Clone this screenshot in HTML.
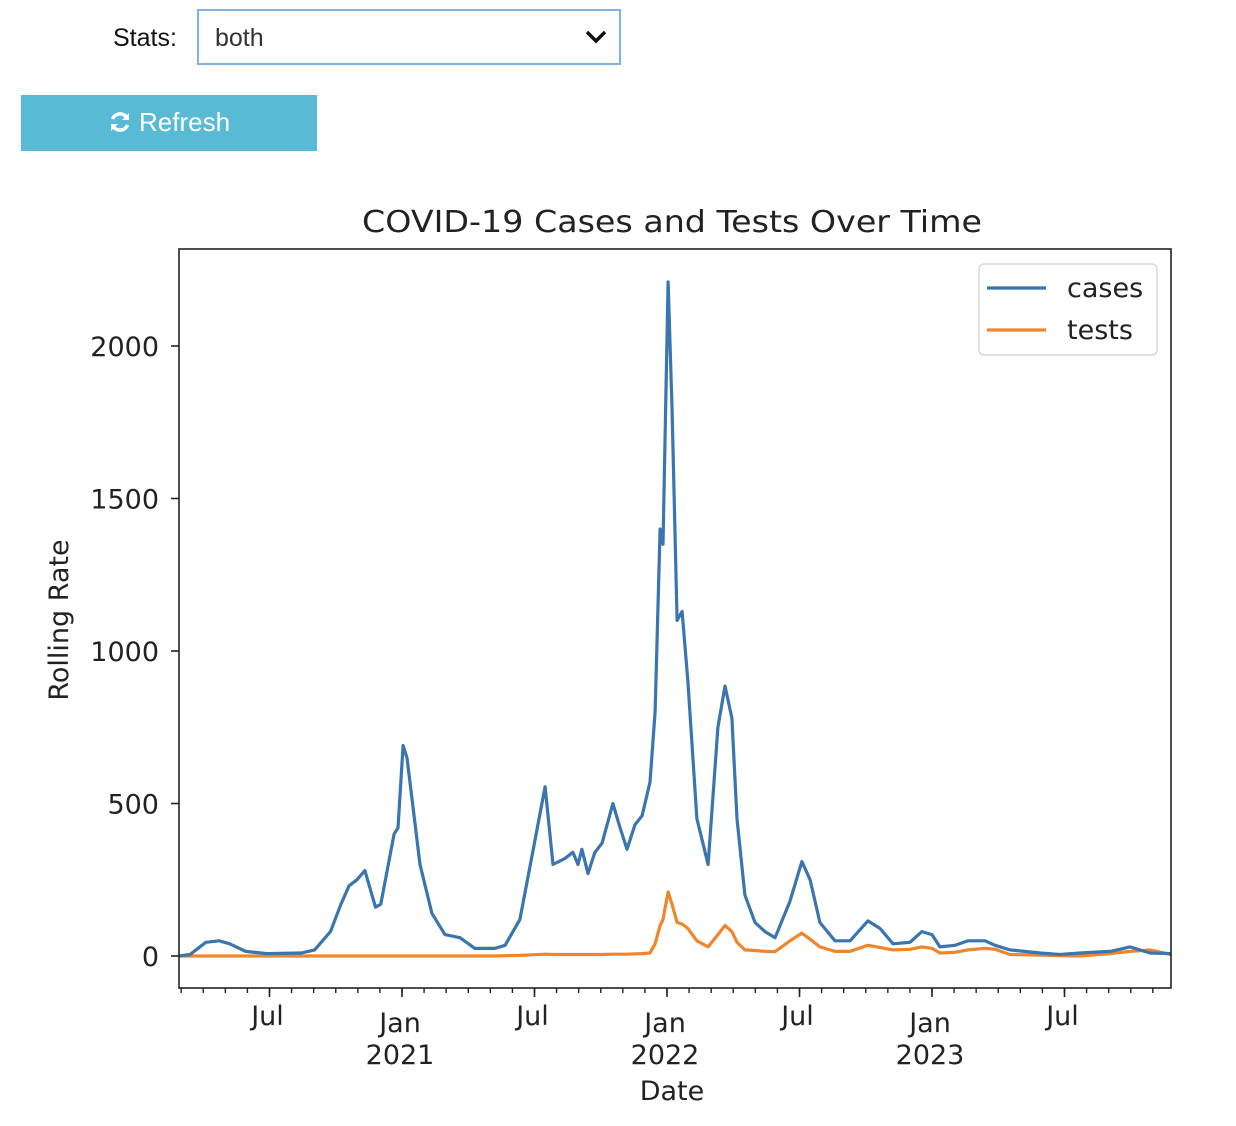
<!DOCTYPE html>
<html><head><meta charset="utf-8">
<style>
html,body{margin:0;padding:0;background:#fff;width:1236px;height:1126px;overflow:hidden;}
body{position:relative;font-family:"Liberation Sans",sans-serif;}
#stats-label{position:absolute;left:113px;top:24px;font-size:25px;color:#111;}
#stats-select{position:absolute;left:197px;top:9px;width:420px;height:52px;border:2px solid #7eb3e8;box-sizing:content-box;background:#fff;}
#stats-select span{position:absolute;left:16px;top:13px;font-size:25px;color:#333;}
#stats-select svg{position:absolute;right:12px;top:18px;}
#refresh{position:absolute;left:21px;top:95px;width:296px;height:56px;background:#58bad4;color:#fff;font-size:26px;}
#refresh .t{position:absolute;top:12px;}
</style></head><body>
<div id="stats-label">Stats:</div>
<div id="stats-select"><span>both</span>
<svg width="22" height="16" viewBox="0 0 22 16"><path d="M2 3 L11 12 L20 3" stroke="#111" stroke-width="3.5" fill="none"/></svg></div>
<div id="refresh">
<svg style="position:absolute;left:87px;top:15px" width="24" height="24" viewBox="0 0 24 24"><path d="M19 8 A8 8 0 0 0 4.5 9" stroke="#fff" stroke-width="3.5" fill="none"/><path d="M21 3 L21 10 L14 10 Z" fill="#fff"/><path d="M5 16 A8 8 0 0 0 19.5 15" stroke="#fff" stroke-width="3.5" fill="none"/><path d="M3 21 L3 14 L10 14 Z" fill="#fff"/></svg>
<span class="t" style="left:118px">Refresh</span></div>
<svg id="chart" style="position:absolute;left:0;top:0" width="1236" height="1126"></svg>
<script>
const dateYears=[2020.158,2020.20,2020.26,2020.31,2020.35,2020.41,2020.49,2020.62,2020.67,2020.73,2020.77,2020.80,2020.83,2020.86,2020.90,2020.92,2020.97,2020.985,2021.004,2021.019,2021.068,2021.113,2021.162,2021.219,2021.275,2021.351,2021.389,2021.445,2021.491,2021.540,2021.570,2021.615,2021.645,2021.664,2021.679,2021.702,2021.728,2021.755,2021.796,2021.823,2021.849,2021.879,2021.906,2021.936,2021.955,2021.974,2021.985,2022.004,2022.019,2022.038,2022.057,2022.079,2022.113,2022.155,2022.192,2022.219,2022.245,2022.264,2022.294,2022.332,2022.370,2022.408,2022.464,2022.509,2022.540,2022.577,2022.634,2022.691,2022.758,2022.804,2022.853,2022.917,2022.962,2023.000,2023.030,2023.087,2023.136,2023.200,2023.238,2023.294,2023.408,2023.483,2023.558,2023.672,2023.747,2023.823,2023.902];
const cases=[0,5,45,50,40,15,8,10,20,80,170,230,250,280,160,170,400,420,690,650,300,140,70,60,25,25,35,120,330,555,300,320,340,300,350,270,340,370,500,420,350,430,460,570,800,1400,1350,2210,1800,1100,1130,900,450,300,750,885,780,450,200,110,80,60,180,310,250,110,50,50,115,90,40,45,80,70,30,35,50,50,35,20,10,5,10,15,30,10,8];
const tests=[0,0,0,0,0,0,0,0,0,0,0,0,0,0,0,0,0,0,0,0,0,0,0,0,0,0,1,2,4,6,5,5,5,5,5,5,5,5,6,6,6,7,8,10,40,100,120,210,170,110,105,90,50,30,70,100,80,45,20,18,15,14,50,75,55,30,15,15,35,28,20,22,30,25,10,12,20,25,22,5,3,1,0,8,15,20,5];
const yTicks=[0,500,1000,1500,2000];
const xMajor=[{v:2020.5,l:["Jul"]},{v:2021,l:["Jan","2021"]},{v:2021.5,l:["Jul"]},{v:2022,l:["Jan","2022"]},{v:2022.5,l:["Jul"]},{v:2023,l:["Jan","2023"]},{v:2023.5,l:["Jul"]}];
const L=179,R=1171,T=249,B=988;
const X=v=>402+(v-2021)*265;
const Y=v=>956-v*0.305;
const svg=document.getElementById('chart');
const NS='http://www.w3.org/2000/svg';
function mk(tag,attrs,txt){const e=document.createElementNS(NS,tag);for(const k in attrs)e.setAttribute(k,attrs[k]);if(txt!==undefined)e.textContent=txt;svg.appendChild(e);return e;}
const F='DejaVu Sans, Liberation Sans, sans-serif';
let t=mk('text',{x:672,y:232,'text-anchor':'middle','font-family':F,'font-size':30,fill:'#222',textLength:620,lengthAdjust:'spacingAndGlyphs'},'COVID-19 Cases and Tests Over Time');


yTicks.forEach(v=>{
 let l=mk('line',{x1:L-8,x2:L,y1:Y(v),y2:Y(v),stroke:'#222','stroke-width':1.6});
 
 
 let tx=mk('text',{x:L-20,y:Y(v)+10,'text-anchor':'end','font-family':F,'font-size':27,fill:'#222'},String(v));
 
 
});
for(let m=0;m<48;m++){const v=2020+m/12;const x=X(v);if(x<L-0.5||x>R+0.5)continue;
 let l=mk('line',{x1:x,x2:x,y1:B,y2:B+5,stroke:'#222','stroke-width':1.4});
 
 }
xMajor.forEach(d=>{const x=X(d.v);
 let l=mk('line',{x1:x,x2:x,y1:B,y2:B+9,stroke:'#222','stroke-width':1.6});
 
 
 d.l.forEach((s,i)=>{let tx=mk('text',{x:x-2,y:(d.l.length>1?1032:1025)+i*32,'text-anchor':'middle','font-family':F,'font-size':27,fill:'#222'},s);
 
 });
});
let xl=mk('text',{x:672,y:1100,'text-anchor':'middle','font-family':F,'font-size':27,fill:'#222'},'Date');


let yl=mk('text',{x:0,y:0,transform:'translate(68,620) rotate(-90)','text-anchor':'middle','font-family':F,'font-size':27,fill:'#222'},'Rolling Rate');


function path(vals,color,name){
 const d=vals.map((v,i)=>(i?'L':'M')+X(dateYears[i]).toFixed(1)+' '+Y(v).toFixed(1)).join(' ');
 let p=mk('path',{d:d,fill:'none',stroke:color,'stroke-width':3.2,'stroke-linejoin':'round'});
 
 
}
path(tests,'#f0862b','tests-line');
path(cases,'#3a75b0','cases-line');
let fr=mk('rect',{x:L,y:T,width:R-L,height:B-T,fill:'none',stroke:'#222','stroke-width':1.6});


let lg=mk('rect',{x:979,y:264,width:178,height:91,rx:5,fill:'#fff','fill-opacity':0.8,stroke:'#d8d8d8','stroke-width':1.5});


[['cases','#3a75b0',288],['tests','#f0862b',330]].forEach(a=>{
 let l=mk('line',{x1:987,x2:1046,y1:a[2],y2:a[2],stroke:a[1],'stroke-width':3.2});
 
 
 let tx=mk('text',{x:1067,y:a[2]+9,'font-family':F,'font-size':27,fill:'#222'},a[0]);
 
 
});
</script>
</body></html>
